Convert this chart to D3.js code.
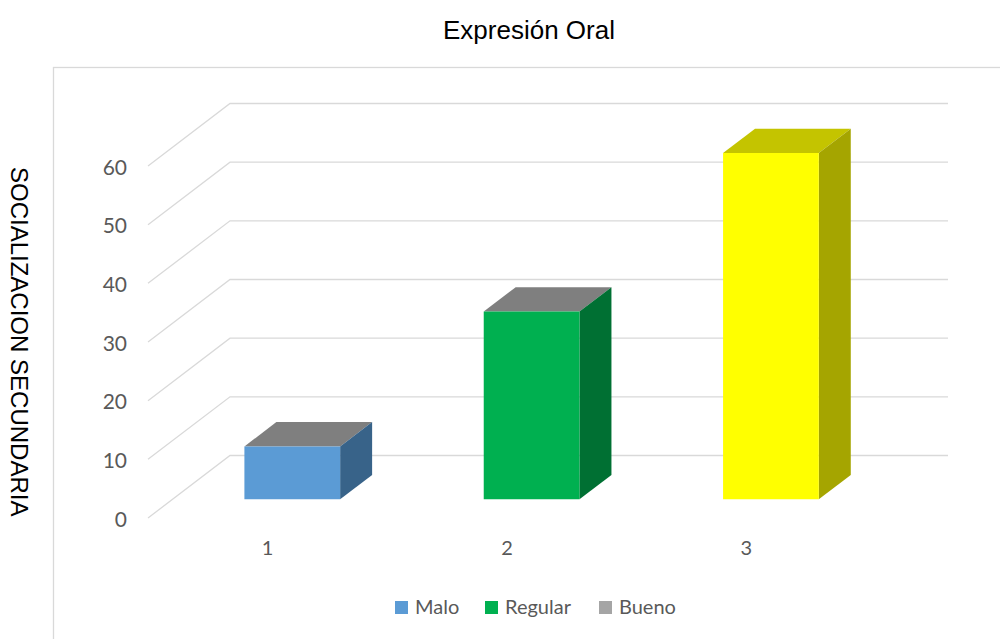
<!DOCTYPE html>
<html>
<head>
<meta charset="utf-8">
<script src="https://cdn.jsdelivr.net/npm/d3@7"></script>
<style>
  html, body { margin: 0; padding: 0; background: #fff; }
  svg { display: block; }
</style>
</head>
<body>
<svg id="chart" width="1000" height="639"></svg>
<script>
// ---- data ----
const categories = ["1", "2", "3"];
const seriesNames = ["Malo", "Regular", "Bueno"];
const values = [9, 32, 59];
const tickValues = [0, 10, 20, 30, 40, 50, 60];
const frontColors = ["#5b9bd5", "#00b050", "#ffff00"];
const sideColors = ["#386389", "#007033", "#a5a500"];
const topColors = ["#7f7f7f", "#7f7f7f", "#c4c400"];
const legendColors = ["#5b9bd5", "#00b050", "#a5a5a5"];
const chartTitle = "Expresión Oral";
const yTitle = "SOCIALIZACION SECUNDARIA";

// ---- layout ----
const svg = d3.select("#chart");
const DX = 82, DY = 62.5;           // depth projection vector
const zFront = 0.30, zBack = 0.69;   // bar depth inside the floor

const x = d3.scaleBand().domain(categories).range([148, 866])
  .paddingInner(0.6).paddingOuter(0.3);
const y = d3.scaleLinear().domain([0, 60]).range([518, 166]);

const proj = (px, v, z) => [px + z * DX, y(v) - z * DY];

// chart border
svg.append("rect")
  .attr("x", 53.5).attr("y", 67.5).attr("width", 1000).attr("height", 700)
  .attr("fill", "none").attr("stroke", "#d9d9d9").attr("stroke-width", 1.3);

// gridlines (left wall + back wall)
const [x0, x1] = x.range();
svg.append("g").selectAll("polyline").data(tickValues).join("polyline")
  .attr("points", t => [proj(x0, t, 0), proj(x0, t, 1), proj(x1, t, 1)].map(p => p.join(",")).join(" "))
  .attr("fill", "none").attr("stroke", "#d9d9d9").attr("stroke-width", 1.3);

// bars
const bars = svg.append("g");
categories.forEach((c, i) => {
  const v = values[i];
  const l = x(c), r = x(c) + x.bandwidth();
  const pts = a => a.map(p => p.join(",")).join(" ");
  // top
  bars.append("polygon")
    .attr("points", pts([proj(l, v, zFront), proj(r, v, zFront), proj(r, v, zBack), proj(l, v, zBack)]))
    .attr("fill", topColors[i]);
  // side
  bars.append("polygon")
    .attr("points", pts([proj(r, 0, zFront), proj(r, v, zFront), proj(r, v, zBack), proj(r, 0, zBack)]))
    .attr("fill", sideColors[i]);
  // front
  bars.append("polygon")
    .attr("points", pts([proj(l, 0, zFront), proj(r, 0, zFront), proj(r, v, zFront), proj(l, v, zFront)]))
    .attr("fill", frontColors[i]);
});

// value axis labels
const yAxis = svg.append("g").attr("transform", "translate(127,1.5)")
  .call(d3.axisLeft(y).tickValues(tickValues).tickSize(0).tickPadding(0));
yAxis.select(".domain").remove();
yAxis.selectAll("text").attr("fill", "#595959")
  .style("font-family", "Lato, 'Open Sans', sans-serif").style("font-size", "21px");

// category labels
const xAxis = svg.append("g").attr("transform", "translate(0,541)")
  .call(d3.axisBottom(x).tickSize(0).tickPadding(0));
xAxis.select(".domain").remove();
xAxis.selectAll("text").attr("fill", "#595959")
  .style("font-family", "Lato, 'Open Sans', sans-serif").style("font-size", "20px");

// title
svg.append("text").attr("x", 529).attr("y", 38.5).attr("text-anchor", "middle")
  .style("font-family", "'Liberation Sans', Arial, sans-serif").style("font-size", "26px")
  .attr("fill", "#000").text(chartTitle);

// y axis title
svg.append("text").attr("transform", "translate(10.5,341.7) rotate(90)")
  .attr("text-anchor", "middle")
  .style("font-family", "'Liberation Sans', Arial, sans-serif").style("font-size", "24px")
  .attr("fill", "#000").text(yTitle);

// legend
const legendX = [395, 485, 599];
const lg = svg.append("g");
seriesNames.forEach((s, i) => {
  lg.append("rect").attr("x", legendX[i]).attr("y", 601).attr("width", 13).attr("height", 13)
    .attr("fill", legendColors[i]);
  lg.append("text").attr("x", legendX[i] + 20).attr("y", 614)
    .style("font-family", "Lato, 'Open Sans', sans-serif").style("font-size", "20px")
    .attr("fill", "#595959").text(s);
});
</script>
</body>
</html>
